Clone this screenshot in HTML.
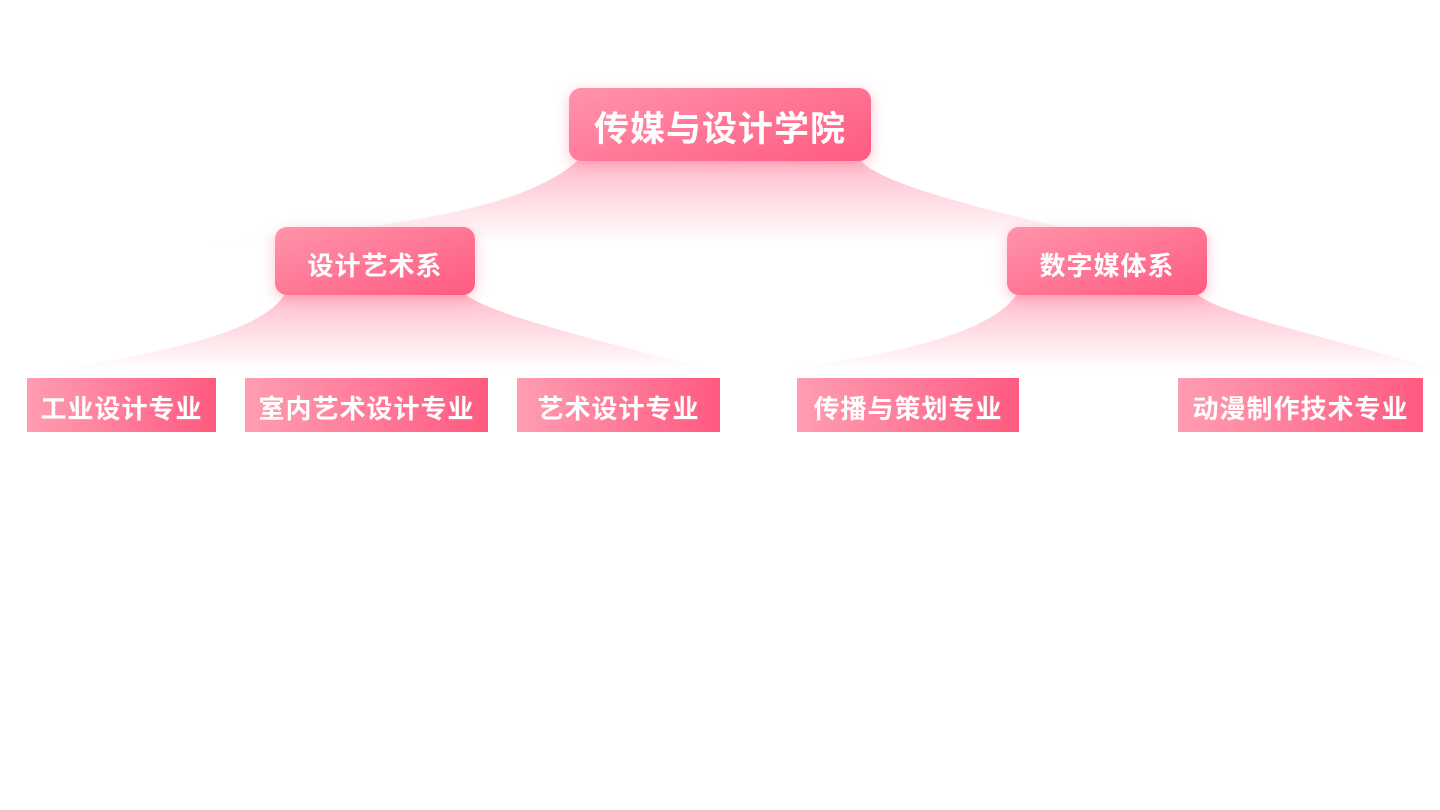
<!DOCTYPE html>
<html><head><meta charset="utf-8"><style>
body{margin:0;width:1440px;height:810px;background:#fff;position:relative;overflow:hidden;font-family:"Liberation Sans","Noto Sans CJK SC",sans-serif}
.b{position:absolute;display:flex;align-items:center;justify-content:center;color:#fff;font-weight:bold;box-sizing:border-box;letter-spacing:1px}
.r{border-radius:12px;background:linear-gradient(160deg,#ff94ab,#ff5a80);box-shadow:0 4px 14px rgba(255,90,128,.35)}
.l{background:linear-gradient(90deg,#ff9db2,#ff5a80);font-size:26px;padding-top:4px}
svg{position:absolute;left:0;top:0}
</style></head><body>
<svg width="1440" height="810">
<defs>
<linearGradient id="g" x1="0" y1="0" x2="0" y2="1">
<stop offset="0" stop-color="#ff6a8c" stop-opacity=".45"/>
<stop offset="1" stop-color="#ff6a8c" stop-opacity="0"/>
</linearGradient>
</defs>
<path d="M578 160 C520 215 360 230 200 244 L1140 244 C1000 215 880 185 860 160 Z" fill="url(#g)"/>
<path d="M285 294 C260 335 150 355 50 370 L710 370 C600 340 490 315 465 294 Z" fill="url(#g)"/>
<path d="M1017 294 C990 335 890 355 780 370 L1440 370 C1340 340 1220 315 1197 294 Z" fill="url(#g)"/>
</svg>
<div class="b r" style="left:569px;top:88px;width:302px;height:73px;font-size:35px;padding-top:4px">传媒与设计学院</div>
<div class="b r" style="left:275px;top:227px;width:200px;height:68px;font-size:26px;padding-top:6px">设计艺术系</div>
<div class="b r" style="left:1007px;top:227px;width:200px;height:68px;font-size:26px;padding-top:6px">数字媒体系</div>
<div class="b l" style="left:27px;top:378px;width:189px;height:54px">工业设计专业</div>
<div class="b l" style="left:245px;top:378px;width:243px;height:54px">室内艺术设计专业</div>
<div class="b l" style="left:517px;top:378px;width:203px;height:54px">艺术设计专业</div>
<div class="b l" style="left:797px;top:378px;width:222px;height:54px">传播与策划专业</div>
<div class="b l" style="left:1178px;top:378px;width:245px;height:54px">动漫制作技术专业</div>
</body></html>
